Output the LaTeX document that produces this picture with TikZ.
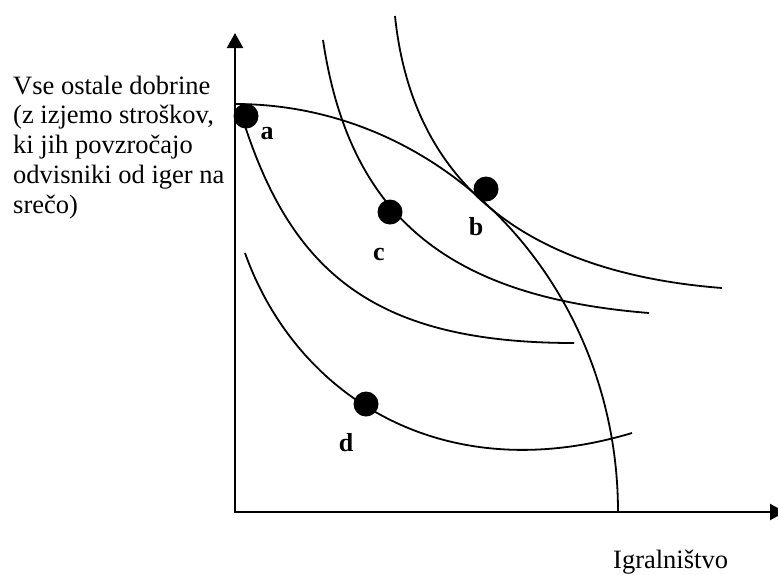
\documentclass[tikz,border=0pt]{standalone}
\usepackage{fontspec}
\setmainfont{Liberation Serif}
\usetikzlibrary{arrows.meta}
\begin{document}
\begin{tikzpicture}[x=1pt,y=-1pt,
  curve/.style={line width=1.8pt},
  axis/.style={line width=2.3pt, {Triangle[length=15pt,width=16pt]}-{Triangle[length=15pt,width=16pt]}},
  dot/.style={circle, fill=black, inner sep=0pt, minimum size=25pt},
  lbl/.style={font=\fontsize{26}{30}\selectfont\bfseries, inner sep=0pt, anchor=base},
  txt/.style={font=\fontsize{26.5}{30}\selectfont, inner sep=0pt, anchor=base west}]
\useasboundingbox (0,0) rectangle (778,574);
% axes
\coordinate (O) at (235,512);
\coordinate (ytip) at (235,33);
\coordinate (xtip) at (785,512);
\draw[axis] (ytip) -- (O) -- (xtip);
% production possibility frontier
\draw[curve] (235,104) arc[start angle=-90, end angle=0, x radius=383, y radius=408];
% indifference curves
\draw[curve] (240,110) .. controls (289,273) and (374,343) .. (574,343);
\draw[curve] (323,40) .. controls (349.5,218) and (449.6,297) .. (649,313);
\draw[curve] (395,16) .. controls (413.5,196) and (542,274) .. (722,288);
\draw[curve] (245,253) .. controls (295.4,394.3) and (440.4,490.4) .. (632,433);
% points
\node[dot] (A) at (246,116) {};
\node[dot] (B) at (486,189) {};
\node[dot] (C) at (390,212) {};
\node[dot] (D) at (366,404) {};
\node[lbl] (la) at (267,139) {a};
\node[lbl] (lb) at (476,235) {b};
\node[lbl] (lc) at (379,260) {c};
\node[lbl] (ld) at (346,451) {d};
% axis titles
\node[txt] (t1) at (13,94) {Vse ostale dobrine};
\node[txt] (t2) at (13,123.75) {(z izjemo stroškov,};
\node[txt] (t3) at (13,153.5) {ki jih povzročajo};
\node[txt] (t4) at (13,183.25) {odvisniki od iger na};
\node[txt] (t5) at (13,213) {srečo)};
\node[txt] (xl) at (613,568) {Igralništvo};
\end{tikzpicture}
\end{document}
